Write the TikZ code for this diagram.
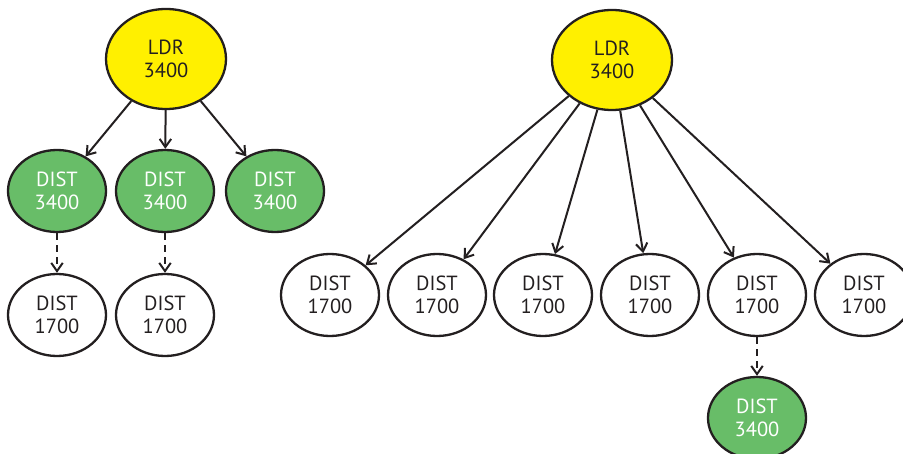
\documentclass[tikz,border=0pt]{standalone}
\usepackage{fontspec}
\setmainfont{PT Sans}
\usetikzlibrary{shapes.geometric,arrows.meta}
\definecolor{ldryel}{RGB}{255,240,0}
\definecolor{distgreen}{RGB}{104,189,104}
\definecolor{ink}{RGB}{35,31,32}
\begin{document}
\begin{tikzpicture}[x=1pt,y=-1pt,
  base/.style={ellipse,draw=ink,line width=2.3pt,inner sep=0pt,align=center,
    font=\fontsize{20.5}{22.5}\selectfont},
  ldr/.style={base,fill=ldryel,text=ink,minimum width=120pt,minimum height=100pt},
  gdist/.style={base,fill=distgreen,text=white,minimum width=98pt,minimum height=82pt},
  wdist/.style={base,fill=white,text=ink,minimum width=98pt,minimum height=82pt},
  arr/.style={draw=ink,line width=2pt,-{Straight Barb[angle=70:10pt]}},
  darr/.style={arr,dash pattern=on 7pt off 5pt}]
\useasboundingbox (0,0) rectangle (903,454);
% left tree
\node[ldr] (l0) at (166,59) {LDR\\3400};
\node[gdist] (g1) at (57,191) {DIST\\3400};
\node[gdist] (g2) at (165,191) {DIST\\3400};
\node[gdist] (g3) at (275,191) {DIST\\3400};
\node[wdist] (w1) at (57,315) {DIST\\1700};
\node[wdist] (w2) at (165,315) {DIST\\1700};
\draw[arr] (l0) -- (g1);
\draw[arr] (l0) -- (g2);
\draw[arr] (l0) -- (g3);
\draw[darr] (g1) -- (w1);
\draw[darr] (g2) -- (w2);
% right tree
\node[ldr] (r0) at (612,60) {LDR\\3400};
\node[wdist] (d1) at (330,295) {DIST\\1700};
\node[wdist] (d2) at (437,295) {DIST\\1700};
\node[wdist] (d3) at (543,295) {DIST\\1700};
\node[wdist] (d4) at (650,295) {DIST\\1700};
\node[wdist] (d5) at (757,295) {DIST\\1700};
\node[wdist] (d6) at (864,295) {DIST\\1700};
\node[gdist] (g4) at (757,418) {DIST\\3400};
\foreach \n in {d1,d2,d3,d4,d5,d6} \draw[arr] (r0) -- (\n);
\draw[darr] (d5) -- (g4);
\end{tikzpicture}
\end{document}
